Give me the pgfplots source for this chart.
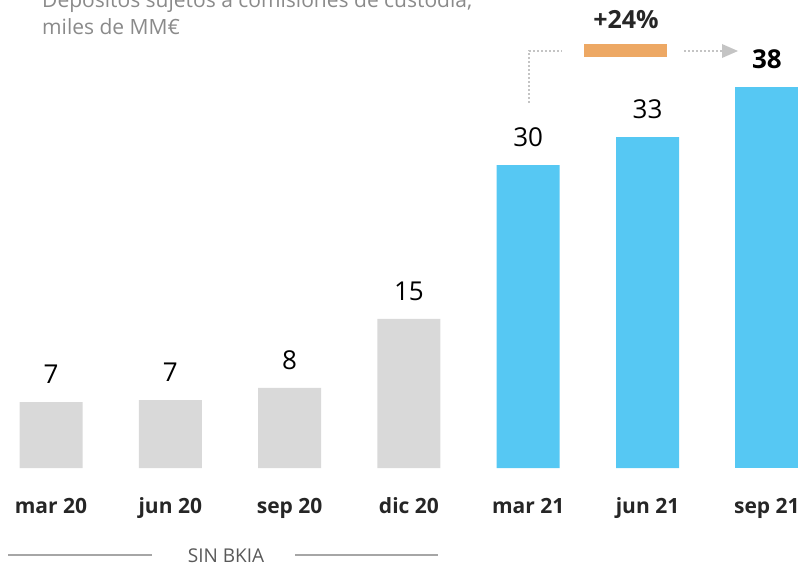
\documentclass[border=0pt]{standalone}
\usepackage{pgfplots}
\pgfplotsset{compat=1.18}
\usepackage{pgfplotstable}
\usepackage{fontspec}
\setmainfont{Open Sans}
\usetikzlibrary{arrows.meta}
\definecolor{barGray}{HTML}{D9D9D9}
\definecolor{barBlue}{HTML}{56C8F3}
\definecolor{accOrange}{HTML}{EDA864}
\definecolor{dotGray}{HTML}{C4C4C4}
\definecolor{txtDark}{HTML}{262626}
\definecolor{titleGray}{HTML}{8A8A8A}

\pgfplotstableread{
x y lab
0 6.58 7
1 6.78 7
2 7.98 8
3 14.86 15
}\grayData
\pgfplotstableread{
x y lab
4 30.2 30
5 33.0 33
}\blueData
\pgfplotstableread{
x y lab
6 38.0 38
}\lastData

\begin{document}
\begin{tikzpicture}[x=1pt,y=1pt]
\begin{axis}[
  at={(0,0)}, anchor=south west,
  scale only axis, width=803pt, height=468pt,
  xmin=-0.4275, xmax=6.303, ymin=0, ymax=46.67,
  axis line style={draw=none},
  major tick length=0pt,
  ymajorticks=false,
  xtick={0,1,2,3,4,5,6},
  xticklabels={mar 20,jun 20,sep 20,dic 20,mar 21,jun 21,sep 21},
  xticklabel style={font=\fontsize{21}{24}\selectfont\bfseries, text=txtDark, anchor=base, yshift=-45pt},
  ybar, bar width=63pt, bar shift=0pt,
  clip=false,
  nodes near coords,
  point meta=explicit symbolic,
  every node near coord/.append style={anchor=south, inner sep=0pt, yshift=18pt, text=black, font=\fontsize{26}{30}\selectfont},
]
\addplot[fill=barGray, draw=none] table[x=x, y=y, meta=lab] {\grayData};
\addplot[fill=barBlue, draw=none] table[x=x, y=y, meta=lab] {\blueData};
\addplot[fill=barBlue, draw=none, every node near coord/.append style={font=\fontsize{26}{30}\selectfont\bfseries}] table[x=x, y=y, meta=lab] {\lastData};
\end{axis}
% annotations (pixel-based, y measured from axis bottom)
\node[anchor=base west, inner sep=0pt, text=titleGray, font=\fontsize{21}{25}\selectfont] at (42,460) {Depósitos sujetos a comisiones de custodia,};
\node[anchor=base west, inner sep=0pt, text=titleGray, font=\fontsize{21}{25}\selectfont] at (42,433) {miles de MM€};
\draw[dotGray, line width=2pt, dash pattern=on 2pt off 2pt] (529,365) -- (529,417) -- (562,417);
\draw[dotGray, line width=2pt, dash pattern=on 2pt off 2pt] (684,417) -- (724,417);
\fill[dotGray] (722,424) -- (738,417) -- (722,410) -- cycle;
\fill[accOrange] (584,411) rectangle (667,424);
\node[inner sep=0pt, font=\fontsize{25}{29}\selectfont\bfseries, text=txtDark] at (626,448) {+24\%};
\draw[gray!70, line width=1.3pt] (8,-87) -- (152,-87);
\draw[gray!70, line width=1.3pt] (295,-87) -- (438,-87);
\node[inner sep=0pt, font=\fontsize{19}{22}\selectfont, text=black!65] at (226,-88) {SIN BKIA};
\pgfresetboundingbox
\path[use as bounding box] (0,-98) rectangle (803,468);
\end{tikzpicture}
\end{document}
